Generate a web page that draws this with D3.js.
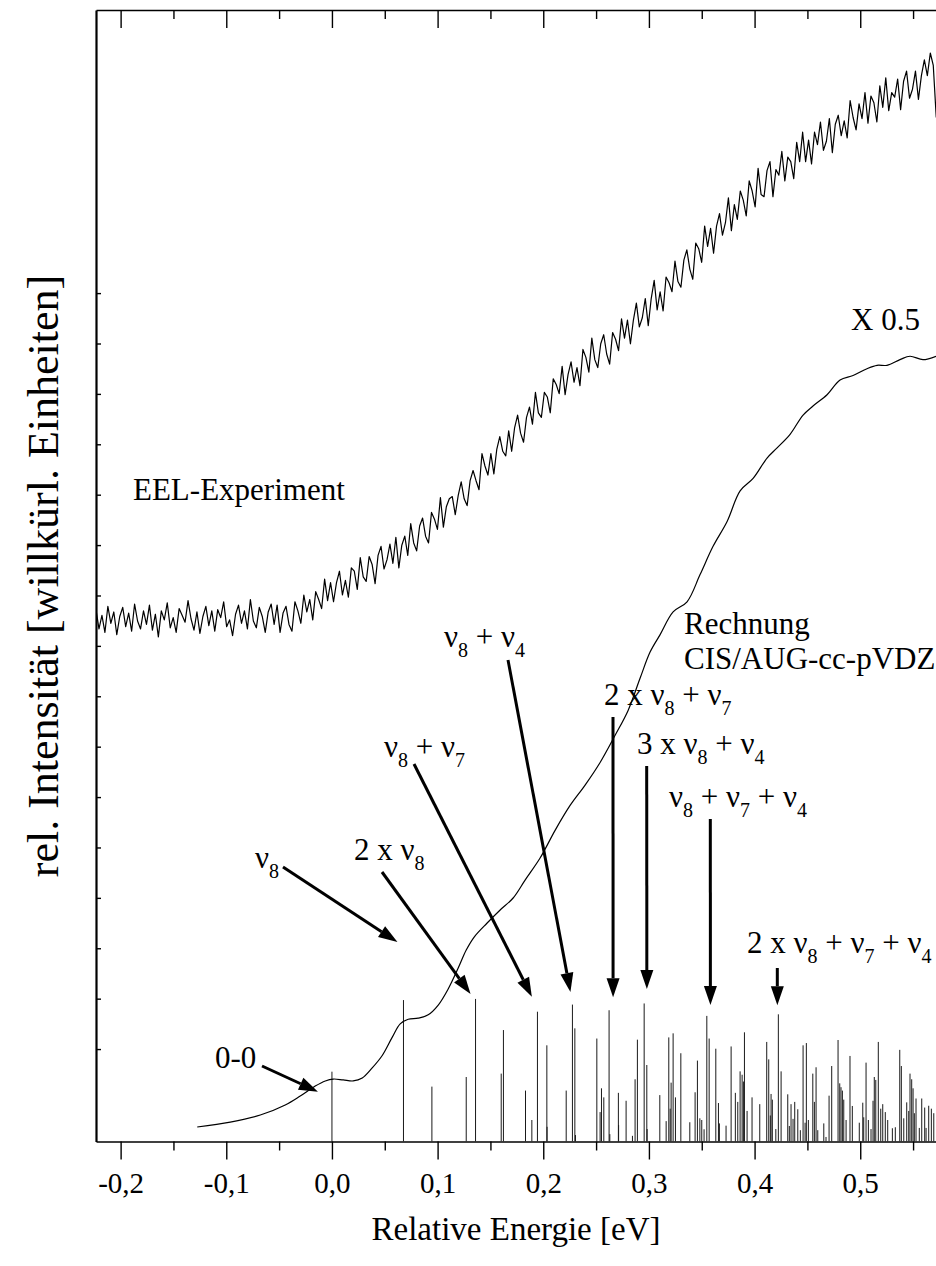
<!DOCTYPE html>
<html>
<head>
<meta charset="utf-8">
<script src="https://cdn.jsdelivr.net/npm/d3@7"></script>
<style>
  body { margin: 0; background: #fff; }
  svg text { font-family: "Liberation Serif", "Times New Roman", serif; fill: #000; white-space: pre; }
</style>
</head>
<body>
<svg id="chart" width="936" height="1266"></svg>
<script>
// ---- axis ticks ----
const xTickValues = [-0.2, -0.1, 0.0, 0.1, 0.2, 0.3, 0.4, 0.5];
const xTickLabels = ["-0,2", "-0,1", "0,0", "0,1", "0,2", "0,3", "0,4", "0,5"];
const xMinorTicks = [-0.15, -0.05, 0.05, 0.15, 0.25, 0.35, 0.45, 0.55];

// ---- EEL experiment: intensity sampled on a uniform energy grid ----
const eelStart = -0.2233;
const eelStep = 0.00281;
const eelIntensity = [
  47.0,45.3,46.5,45.0,47.3,45.8,46.8,44.8,46.4,47.2,45.5,46.7,45.1,47.5,46.0,45.3,46.9,45.7,47.4,45.2,
  46.6,44.6,46.9,46.1,47.6,45.4,46.3,45.0,47.1,46.5,45.9,47.8,46.2,45.2,46.8,44.9,46.4,47.3,45.6,46.9,
  45.1,47.0,46.3,47.7,45.5,46.1,44.7,46.6,47.4,45.8,46.9,45.3,47.9,46.0,45.4,47.2,46.4,45.0,46.8,47.5,
  45.7,47.4,45.0,46.7,47.3,45.7,45.1,47.7,46.9,45.8,48.3,46.8,47.9,46.1,48.6,47.9,47.1,49.7,47.8,49.4,
  47.7,49.4,50.4,48.3,49.6,48.1,50.7,50.4,48.8,51.6,49.9,49.5,51.7,51.0,49.3,51.8,52.6,50.6,51.4,52.8,
  51.1,53.4,50.7,52.7,53.5,51.8,54.6,52.9,52.2,54.4,55.1,53.5,52.9,55.6,55.0,54.1,56.9,54.3,56.1,56.8,
  57.0,55.4,57.1,58.3,56.8,56.2,58.4,59.3,58.4,57.6,60.8,59.7,58.9,60.8,59.0,61.2,62.3,61.0,60.6,62.8,
  61.0,63.1,64.2,62.6,61.8,64.0,64.9,63.4,66.2,64.4,64.0,66.2,65.8,64.4,67.4,66.9,66.1,68.5,66.0,67.8,
  68.9,67.1,68.4,66.8,70.0,69.3,68.0,71.0,69.1,68.4,70.5,71.3,69.6,68.7,71.5,70.9,69.9,72.7,71.0,72.6,
  70.5,72.6,74.1,72.0,72.8,74.5,72.1,74.5,76.1,73.5,75.1,73.4,76.4,75.9,75.1,77.8,76.0,75.5,77.9,78.8,
  77.1,76.2,79.4,78.9,77.7,80.9,79.1,80.7,78.5,80.9,82.0,80.1,81.2,83.4,80.5,82.8,81.5,84.0,83.2,81.8,
  84.9,84.0,82.6,86.0,83.7,83.5,85.8,86.6,83.5,85.9,85.4,87.5,84.9,87.0,86.6,85.1,88.3,86.6,89.2,86.6,
  88.5,86.4,89.2,88.1,90.1,87.6,88.4,90.4,87.4,89.9,90.7,88.9,90.2,88.7,92.0,90.5,89.4,91.7,90.4,92.7,
  90.0,92.4,91.8,90.1,93.3,91.4,94.0,91.1,92.7,92.3,93.9,91.2,93.7,94.6,92.2,93.0,94.6,92.1,94.2,95.6,
  94.2,96.2,95.1,90.5
];

// ---- CIS/AUG-cc-pVDZ convoluted spectrum (scaled x 0.5) ----
const calcEnergy = [
  -0.1275,-0.0962,-0.0678,-0.0442,-0.0300,-0.0158,-0.0063,0.0012,0.0107,0.0201,
  0.0287,0.0381,0.0476,0.0570,0.0646,0.0722,0.0816,0.0911,0.1006,0.1100,
  0.1195,0.1271,0.1346,0.1469,0.1592,0.1715,0.1828,0.1970,0.2112,0.2254,
  0.2396,0.2538,0.2680,0.2803,0.2917,0.3011,0.3106,0.3229,0.3361,0.3484,
  0.3607,0.3740,0.3863,0.3986,0.4118,0.4213,0.4336,0.4459,0.4553,0.4686,
  0.4809,0.4932,0.5064,0.5159,0.5253,0.5376,0.5471,0.5594,0.5717
];
const calcIntensity = [
  1.28,1.72,2.34,3.23,4.02,4.9,5.35,5.52,5.44,5.35,
  5.61,6.5,7.6,9.2,10.4,10.8,10.9,11.2,12.06,13.48,
  15.33,16.92,18.07,19.31,20.46,21.52,23.1,25.05,27.5,29.7,
  31.5,33.5,35.9,38.1,40.96,43.26,44.8,46.8,47.7,50.1,
  52.6,54.8,57.5,58.6,60.4,61.3,62.5,64.2,65.0,66.0,
  67.3,67.7,68.3,68.6,68.6,69.1,69.4,69.1,69.4
];

// ---- computed vibronic transitions (stick spectrum) ----
const stickEnergy = [
  0.0000,0.0677,0.0946,0.1271,0.1359,0.1602,0.1623,0.1832,0.1892,0.1945,
  0.2034,0.2036,0.2217,0.2276,0.2299,0.2305,0.2507,0.2538,0.2551,0.2573,
  0.2623,0.2630,0.2711,0.2713,0.2784,0.2844,0.2869,0.2891,0.2955,0.2980,
  0.2983,0.3103,0.3163,0.3188,0.3201,0.3210,0.3229,0.3251,0.3302,0.3387,
  0.3437,0.3459,0.3482,0.3500,0.3522,0.3548,0.3570,0.3633,0.3658,0.3667,
  0.3730,0.3778,0.3818,0.3841,0.3863,0.3882,0.3894,0.3904,0.3929,0.3976,
  0.4049,0.4115,0.4134,0.4149,0.4156,0.4168,0.4201,0.4225,0.4251,0.4314,
  0.4329,0.4345,0.4364,0.4380,0.4409,0.4433,0.4459,0.4478,0.4490,0.4509,
  0.4551,0.4566,0.4582,0.4598,0.4655,0.4676,0.4705,0.4730,0.4790,0.4806,
  0.4818,0.4831,0.4844,0.4866,0.4903,0.4925,0.4991,0.5024,0.5033,0.5055,
  0.5077,0.5102,0.5121,0.5133,0.5147,0.5171,0.5194,0.5213,0.5237,0.5260,
  0.5304,0.5332,0.5374,0.5389,0.5412,0.5440,0.5459,0.5471,0.5487,0.5500,
  0.5512,0.5528,0.5559,0.5582,0.5610,0.5623,0.5648,0.5673,0.5696
];
const stickHeight = [
  6.17,12.5,4.85,5.7,12.6,6.0,9.85,4.5,1.9,11.47,
  8.5,1.3,4.5,12.1,10.0,0.57,9.1,2.6,4.7,3.9,
  11.6,0.65,4.3,1.45,3.6,0.5,5.5,9.0,12.2,6.76,
  1.1,4.1,1.8,9.2,2.9,5.2,9.56,3.9,7.8,1.7,
  4.35,7.15,2.05,1.9,1.08,11.1,9.1,8.2,3.4,1.6,
  1.4,8.4,4.3,3.5,6.2,5.9,5.3,9.65,2.7,3.9,
  3.3,8.8,7.26,2.3,4.2,3.7,1.1,11.24,6.2,4.17,
  1.37,3.3,2.0,3.5,2.85,1.0,8.5,1.66,8.7,1.9,
  6.0,3.5,6.56,1.0,1.6,0.4,4.05,6.67,8.97,5.14,
  4.8,4.5,3.7,1.9,7.56,3.14,1.66,3.43,2.14,6.97,
  1.9,1.1,3.6,5.7,5.44,8.8,2.9,3.3,2.6,1.9,
  1.17,1.26,8.1,6.67,2.05,3.46,2.7,6.0,5.5,4.7,
  2.5,3.8,1.2,3.8,3.0,1.2,3.16,2.9,2.5
];

// ---- band assignments: label pieces ([text, subscript?]) and the transition they mark ----
const assignLabels = [
  [["0-0", 0]],
  [["ν", 0], ["8", 1]],
  [["2 x ν", 0], ["8", 1]],
  [["ν", 0], ["8", 1], [" + ν", 0], ["7", 1]],
  [["ν", 0], ["8", 1], [" + ν", 0], ["4", 1]],
  [["2 x ν", 0], ["8", 1], [" + ν", 0], ["7", 1]],
  [["3 x ν", 0], ["8", 1], [" + ν", 0], ["4", 1]],
  [["ν", 0], ["8", 1], [" + ν", 0], ["7", 1], [" + ν", 0], ["4", 1]],
  [["2 x ν", 0], ["8", 1], [" + ν", 0], ["7", 1], [" + ν", 0], ["4", 1]]
];
const assignStick = [0, 1, 4, 9, 13, 20, 28, 45, 67];

// ---- layout ----
const plotL = 96, plotR = 936, plotT = 10, plotB = 1141.5;

// label placement (text anchor point) and arrow tail, plus arrow-tip offset from the stick top
const assignLayout = [
  { text: [215, 1068], tail: [262, 1066], tip: [-14, 20] },
  { text: [255, 868],  tail: [283, 867],  tip: [-6, -58] },
  { text: [354, 860],  tail: [382, 872],  tip: [-5, -5] },
  { text: [384, 757],  tail: [414, 764],  tip: [-5.6, -15] },
  { text: [444, 647],  tail: [508, 660],  tip: [-2, -12.6] },
  { text: [604, 705],  tail: [613, 717],  tip: [4, -13] },
  { text: [637, 754],  tail: [646.7, 766], tip: [2.7, -14.5] },
  { text: [669, 807],  tail: [710.3, 819], tip: [3.6, -11] },
  { text: [747, 953],  tail: [777.3, 968], tip: [-1, -9] }
];

const svg = d3.select("#chart");

const x = d3.scaleLinear().domain([-0.2233, 0.5717]).range([plotL, plotR]);
const y = d3.scaleLinear().domain([0, 100]).range([plotB, plotT]);

svg.append("defs").append("clipPath").attr("id", "plot")
  .append("rect").attr("x", plotL).attr("y", plotT).attr("width", plotR - plotL).attr("height", plotB - plotT);

const plot = svg.append("g").attr("clip-path", "url(#plot)");

// stick spectrum
plot.append("g").selectAll("line")
  .data(d3.range(stickEnergy.length))
  .join("line")
  .attr("x1", i => x(stickEnergy[i]))
  .attr("x2", i => x(stickEnergy[i]))
  .attr("y1", y(0))
  .attr("y2", i => y(stickHeight[i]))
  .attr("stroke", "#1a1a1a")
  .attr("stroke-width", 1);

// calculated envelope
plot.append("path")
  .datum(d3.range(calcEnergy.length))
  .attr("fill", "none")
  .attr("stroke", "#000")
  .attr("stroke-width", 1.2)
  .attr("d", d3.line()
    .x(i => x(calcEnergy[i]))
    .y(i => y(calcIntensity[i]))
    .curve(d3.curveCatmullRom.alpha(0.5)));

// experimental EEL spectrum
plot.append("path")
  .datum(eelIntensity)
  .attr("fill", "none")
  .attr("stroke", "#000")
  .attr("stroke-width", 1.2)
  .attr("stroke-linejoin", "round")
  .attr("d", d3.line()
    .x((d, i) => x(eelStart + i * eelStep))
    .y(d => y(d)));

// axes
const bottomAxis = svg.append("g").attr("transform", `translate(0,${plotB})`)
  .call(d3.axisBottom(x).tickValues(xTickValues)
    .tickFormat((d, i) => xTickLabels[i]).tickSize(18).tickSizeOuter(0).tickPadding(13));
bottomAxis.selectAll("text").attr("font-size", 29).attr("font-family", "Liberation Serif");
svg.append("g").attr("transform", `translate(0,${plotB})`)
  .call(d3.axisBottom(x).tickValues(xMinorTicks).tickFormat("").tickSize(9).tickSizeOuter(0))
  .select(".domain").remove();

svg.append("g").attr("transform", `translate(0,${plotT})`)
  .call(d3.axisBottom(x).tickValues(xTickValues).tickFormat("").tickSize(18).tickSizeOuter(0));
svg.append("g").attr("transform", `translate(0,${plotT})`)
  .call(d3.axisBottom(x).tickValues(xMinorTicks).tickFormat("").tickSize(9).tickSizeOuter(0))
  .select(".domain").remove();

const leftAxis = svg.append("g").attr("transform", `translate(${plotL},0)`)
  .call(d3.axisRight(y).tickValues(d3.range(8.17, 76, 4.454)).tickFormat("").tickSize(5).tickSizeOuter(0));

svg.selectAll(".domain").attr("stroke", "#000").attr("stroke-width", 1.6);
leftAxis.select(".domain").attr("stroke-width", 2.2);
svg.selectAll(".tick line").attr("stroke", "#000").attr("stroke-width", 1.4);

// axis titles
svg.append("text")
  .attr("x", (plotL + plotR) / 2).attr("y", 1240)
  .attr("text-anchor", "middle").attr("font-size", 33)
  .text("Relative Energie [eV]");
svg.append("text")
  .attr("transform", `translate(58,576) rotate(-90)`)
  .attr("text-anchor", "middle").attr("font-size", 44)
  .text("rel. Intensität [willkürl. Einheiten]");

// curve captions
const captions = [
  ["EEL-Experiment", 133, 500],
  ["X 0.5", 851, 330],
  ["Rechnung", 684, 634],
  ["CIS/AUG-cc-pVDZ", 684, 669]
];
svg.append("g").selectAll("text").data(captions).join("text")
  .attr("x", d => d[1]).attr("y", d => d[2])
  .attr("font-size", 31).text(d => d[0]);

// assignment labels and arrows
const ann = svg.append("g");
assignLabels.forEach((parts, k) => {
  const L = assignLayout[k];
  const t = ann.append("text").attr("x", L.text[0]).attr("y", L.text[1]).attr("font-size", 31);
  let shifted = false;
  parts.forEach(([s, sub]) => {
    const ts = t.append("tspan").text(s);
    if (sub) { ts.attr("font-size", 20).attr("dy", 10); shifted = true; }
    else if (shifted) { ts.attr("dy", -10); shifted = false; }
  });

  const si = assignStick[k];
  const tx = x(stickEnergy[si]) + L.tip[0];
  const ty = y(stickHeight[si]) + L.tip[1];
  const [sx, sy] = L.tail;
  const ang = Math.atan2(ty - sy, tx - sx);
  const headLen = 19, headHalf = 6.5;
  const bx = tx - headLen * Math.cos(ang), by = ty - headLen * Math.sin(ang);
  ann.append("line")
    .attr("x1", sx).attr("y1", sy).attr("x2", bx).attr("y2", by)
    .attr("stroke", "#000").attr("stroke-width", 3);
  const px = -Math.sin(ang) * headHalf, py = Math.cos(ang) * headHalf;
  ann.append("path")
    .attr("d", `M${tx},${ty}L${bx + px},${by + py}L${bx - px},${by - py}Z`)
    .attr("fill", "#000");
});
</script>
</body>
</html>
